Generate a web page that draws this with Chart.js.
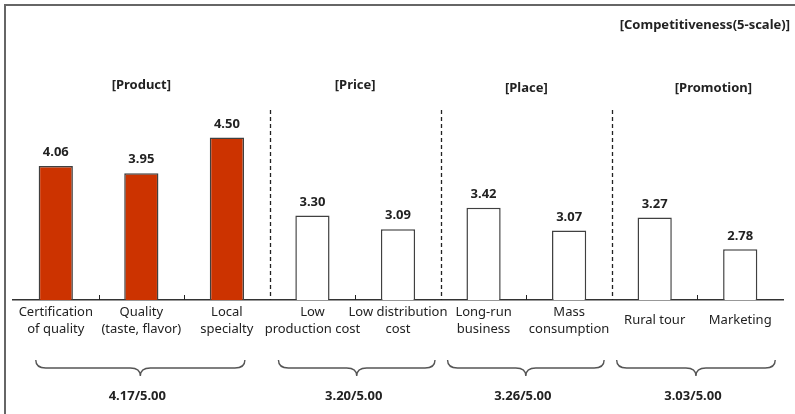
<!DOCTYPE html>
<html>
<head>
<meta charset="utf-8">
<script src="https://cdn.jsdelivr.net/npm/chart.js@4"></script>
<style>
  html, body { margin: 0; padding: 0; background: #fff; }
  #wrap { width: 795px; height: 414px; }
</style>
</head>
<body>
<div id="wrap"><canvas id="mixChart" width="795" height="414"></canvas></div>
<script>
var categories = [
  ["Certification", "of quality"],
  ["Quality", "(taste, flavor)"],
  ["Local", "specialty"],
  ["Low", "production cost"],
  ["Low distribution", "cost"],
  ["Long-run", "business"],
  ["Mass", "consumption"],
  "Rural tour",
  "Marketing"
];
var scores = [4.06, 3.95, 4.50, 3.30, 3.09, 3.42, 3.07, 3.27, 2.78];
var groupNames = ["[Product]", "[Price]", "[Place]", "[Promotion]"];
var groupFirst = [0, 3, 5, 7];
var groupLast = [2, 4, 6, 8];
var groupAverages = ["4.17/5.00", "3.20/5.00", "3.26/5.00", "3.03/5.00"];
var chartTitle = "[Competitiveness(5-scale)]";

var FONT = "'Noto Sans', 'Open Sans', sans-serif";
var ink = "#222";

// product group gets the red bars
var fills = scores.map(function (v, i) { return i <= groupLast[0] ? "#cc3300" : "#ffffff"; });

function braceAt(ctx, x1, x2, tip, top) {
  var mid = top + 8, bot = top + 16, r = 10;
  ctx.beginPath();
  ctx.moveTo(x1, top);
  ctx.quadraticCurveTo(x1, mid, x1 + r, mid);
  ctx.lineTo(tip - r, mid);
  ctx.quadraticCurveTo(tip, mid, tip, bot);
  ctx.quadraticCurveTo(tip, mid, tip + r, mid);
  ctx.lineTo(x2 - r, mid);
  ctx.quadraticCurveTo(x2, mid, x2, top);
  ctx.stroke();
}

var extras = {
  id: "extras",
  afterDraw: function (chart) {
    var ctx = chart.ctx;
    var xs = chart.scales.x;
    var area = chart.chartArea;
    var step = xs.getPixelForValue(1) - xs.getPixelForValue(0);
    ctx.save();

    // frame (top + left edge)
    ctx.strokeStyle = "#666";
    ctx.lineWidth = 2;
    ctx.beginPath();
    ctx.moveTo(5, 414);
    ctx.lineTo(5, 5);
    ctx.lineTo(795, 5);
    ctx.stroke();

    // boundaries: small ticks inside groups, dashed lines between groups
    ctx.strokeStyle = "#222";
    for (var b = 1; b < scores.length; b++) {
      var bx = Math.round(xs.getPixelForValue(b) - step / 2) + 0.5;
      var isGroupEdge = groupFirst.indexOf(b) >= 0;
      ctx.beginPath();
      if (isGroupEdge) {
        ctx.lineWidth = 1.3;
        ctx.setLineDash([4, 3]);
        ctx.moveTo(bx, 110);
      } else {
        ctx.lineWidth = 1;
        ctx.setLineDash([]);
        ctx.moveTo(bx, area.bottom - 5);
      }
      ctx.lineTo(bx, area.bottom);
      ctx.stroke();
    }
    ctx.setLineDash([]);

    // values above bars
    ctx.fillStyle = ink;
    ctx.textAlign = "center";
    ctx.textBaseline = "bottom";
    ctx.font = "bold 13px " + FONT;
    chart.getDatasetMeta(0).data.forEach(function (bar, i) {
      ctx.fillText(scores[i].toFixed(2), bar.x, bar.y - 7);
    });

    // group titles, braces, averages
    ctx.strokeStyle = "#555";
    ctx.lineWidth = 1.4;
    var insetL = [20, 34, 36, 38];
    var insetR = [18, 37, 35, 35];
    for (var g = 0; g < groupNames.length; g++) {
      var left = xs.getPixelForValue(groupFirst[g]) - step / 2;
      var right = xs.getPixelForValue(groupLast[g]) + step / 2;
      var c = (left + right) / 2;
      ctx.textBaseline = "middle";
      ctx.fillText(groupNames[g], c + (g == 3 ? 16 : 0), g < 2 ? 85 : 88);
      var b1 = xs.getPixelForValue(groupFirst[g]) - insetL[g];
      var b2 = xs.getPixelForValue(groupLast[g]) + insetR[g];
      var tip = (b1 + b2) / 2;
      braceAt(ctx, b1, b2, tip, 360);
      ctx.fillText(groupAverages[g], tip - 3, 396);
    }

    // top right title
    ctx.textAlign = "right";
    ctx.fillText(chartTitle, 790, 25);
    ctx.restore();
  }
};

new Chart(document.getElementById("mixChart"), {
  type: "bar",
  data: {
    labels: categories,
    datasets: [{
      data: scores,
      backgroundColor: fills,
      borderColor: "#404040",
      borderWidth: 1.5,
      borderSkipped: "bottom",
      barPercentage: 0.4,
      categoryPercentage: 1
    }]
  },
  options: {
    responsive: false,
    animation: false,
    layout: { padding: { left: 13, right: 12, top: 105, bottom: 0 } },
    plugins: { legend: { display: false }, tooltip: { enabled: false } },
    scales: {
      x: {
        grid: { display: false },
        border: { display: true, color: "#333", width: 1.5 },
        ticks: {
          color: ink,
          autoSkip: false,
          maxRotation: 0,
          crossAlign: "center",
          padding: 4,
          font: { family: FONT, size: 13, lineHeight: 1.35 }
        },
        afterFit: function (s) { s.height = 114; }
      },
      y: { display: false, min: 2, max: 5 }
    }
  },
  plugins: [extras]
});
</script>
</body>
</html>
